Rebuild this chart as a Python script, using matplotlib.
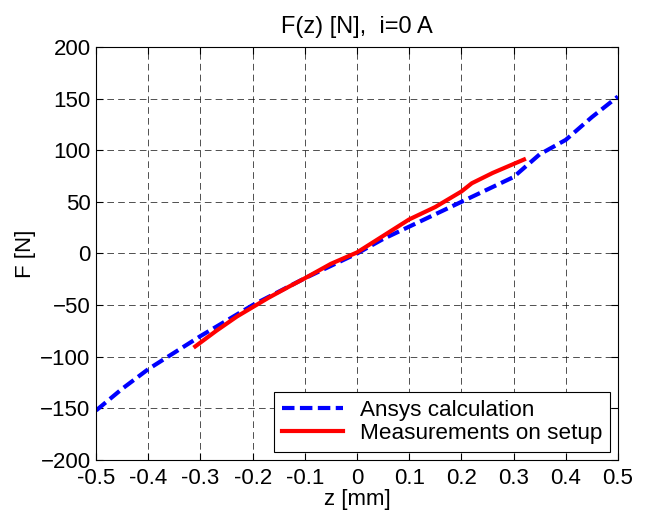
import numpy as np
import matplotlib
matplotlib.use('Agg')
import matplotlib.pyplot as plt

plt.rcParams['font.family'] = ['Liberation Sans', 'DejaVu Sans']

# Ansys calculation
z_ansys = [-0.5, -0.45, -0.4, -0.35, -0.3, -0.25, -0.2, -0.15, -0.1, -0.05, 0.0,
           0.05, 0.1, 0.15, 0.2, 0.25, 0.3, 0.35, 0.4, 0.45, 0.5]
f_ansys = [-152, -131, -112, -96, -80, -65, -50, -37, -24, -12, 0,
           14, 26, 38, 50, 62, 74, 96, 110, 132, 152]

# Measurements on setup
z_meas = [-0.31, -0.27, -0.23, -0.2, -0.17, -0.13, -0.1, -0.05, 0.0,
          0.05, 0.1, 0.15, 0.2, 0.22, 0.26, 0.32]
f_meas = [-90, -75, -61, -52, -43, -32, -24, -10, 1,
          17, 33, 45, 60, 68, 78, 91]

fig = plt.figure(figsize=(6.45, 5.16), dpi=100)
ax = fig.add_axes([0.149, 0.1085, 0.809, 0.8005])

ax.plot(z_ansys, f_ansys, color='blue', linestyle=(0, (3, 1.3)), linewidth=3,
        label='Ansys calculation')
ax.plot(z_meas, f_meas, color='red', linestyle='-', linewidth=3,
        label='Measurements on setup')

ax.set_xlim(-0.5, 0.5)
ax.set_ylim(-200, 200)
ax.set_xticks(np.arange(-0.5, 0.51, 0.1))
ax.set_xticklabels(['-0.5', '-0.4', '-0.3', '-0.2', '-0.1', '0', '0.1', '0.2', '0.3', '0.4', '0.5'])
ax.set_yticks(np.arange(-200, 201, 50))
ax.tick_params(direction='in', top=True, right=True, labelsize=16, length=5)
ax.tick_params(axis='x', pad=6)
ax.tick_params(axis='y', pad=4)
ax.grid(True, color='black', linestyle=(0, (8, 5)), linewidth=0.6, alpha=0.8)

ax.set_xlabel('z [mm]', fontsize=16, labelpad=0)
ax.set_ylabel('F [N]', fontsize=16, labelpad=3)
ax.set_title('F(z) [N],  i=0 A', fontsize=17, pad=10)

leg = ax.legend(loc='lower right', fontsize=16.2, fancybox=False, framealpha=1,
                edgecolor='black', borderaxespad=0.35, handlelength=2.7,
                handletextpad=0.75, labelspacing=0.12, borderpad=0.35)
leg.get_frame().set_linewidth(0.8)

fig.savefig('out.png', dpi=100)
